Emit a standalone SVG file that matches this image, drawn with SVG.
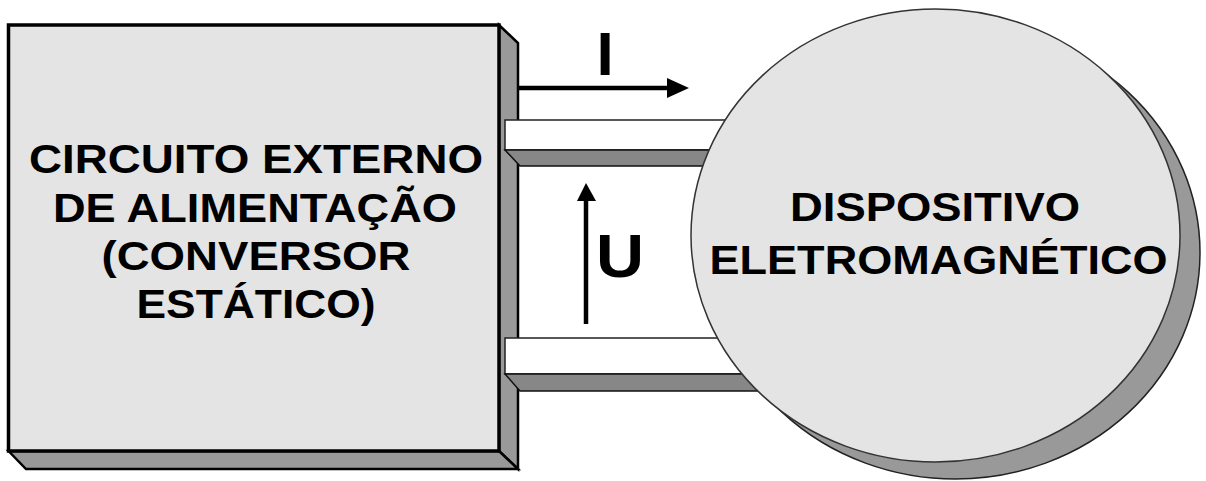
<svg xmlns="http://www.w3.org/2000/svg" width="1206" height="481" viewBox="0 0 1206 481">
<style>
.lbl{font-family:"Liberation Sans",Arial,sans-serif;font-weight:bold;fill:#000;text-anchor:middle}
.big{font-size:40px}
.sym{font-size:62px}
.face{fill:#e4e4e4}
.side{fill:#999;stroke:#000;stroke-width:2.5;stroke-linejoin:miter}
.barw{fill:#fff;stroke:#222;stroke-width:1.5}
.barg{fill:#878787;stroke:#111;stroke-width:1.5}
.wire{stroke:#000;stroke-width:4.5;fill:none}
</style>
<rect width="1206" height="481" fill="#fff"/>
<g id="node-circuito">
  <polygon class="side" points="499,25 518,43 518,469 499,451"/>
  <polygon class="side" points="8.5,451 26,469 518,469 499,451"/>
  <rect class="face" x="8.5" y="25" width="490.5" height="426" stroke="#000" stroke-width="3.5"/>
  <text class="lbl big" x="256" y="173" textLength="454" lengthAdjust="spacingAndGlyphs">CIRCUITO EXTERNO</text>
  <text class="lbl big" x="255" y="222" textLength="404" lengthAdjust="spacingAndGlyphs">DE ALIMENTAÇÃO</text>
  <text class="lbl big" x="256" y="270" textLength="309" lengthAdjust="spacingAndGlyphs">(CONVERSOR</text>
  <text class="lbl big" x="256" y="318" textLength="239" lengthAdjust="spacingAndGlyphs">ESTÁTICO)</text>
</g>
<g id="connectors">
  <rect class="barw" x="505" y="120" width="315" height="30"/>
  <polygon class="barg" points="505,150 820,150 820,166 520,166"/>
  <rect class="barw" x="505" y="338" width="315" height="36"/>
  <polygon class="barg" points="505,374 820,374 820,391 520,391"/>
  <line class="wire" x1="518" y1="88" x2="670" y2="88"/>
  <polygon points="689,88 667,78 667,98" fill="#000"/>
  <line class="wire" x1="586" y1="324" x2="586" y2="199"/>
  <polygon points="586,183 577,201 596,201" fill="#000"/>
  <text class="lbl sym" x="605" y="75">I</text>
  <text class="lbl sym" x="620" y="277" textLength="48" lengthAdjust="spacingAndGlyphs">U</text>
</g>
<g id="node-dispositivo">
  <ellipse cx="955.5" cy="252.5" rx="244.5" ry="226.5" fill="#999" stroke="#222" stroke-width="1.5"/>
  <ellipse cx="935.5" cy="235.5" rx="244.5" ry="226.5" fill="#e4e4e4" stroke="#333" stroke-width="1.5"/>
  <text class="lbl big" x="935" y="221" textLength="290" lengthAdjust="spacingAndGlyphs">DISPOSITIVO</text>
  <text class="lbl big" x="938.5" y="274" textLength="458" lengthAdjust="spacingAndGlyphs">ELETROMAGNÉTICO</text>
</g>
</svg>
